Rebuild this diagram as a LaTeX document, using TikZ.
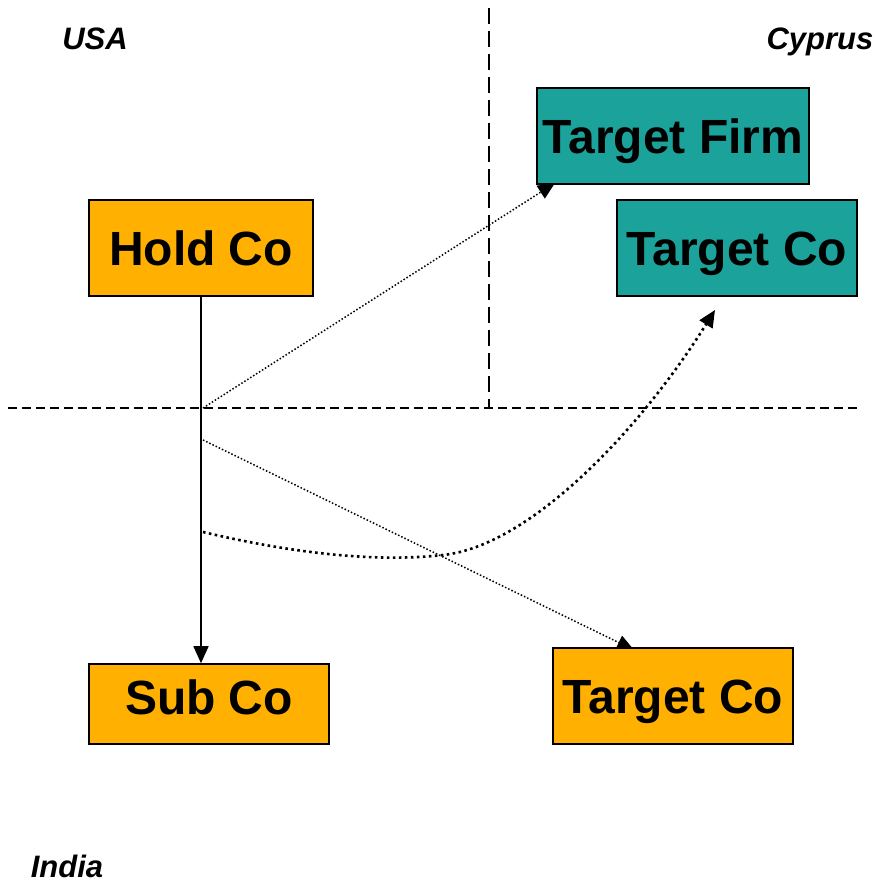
\documentclass[tikz,border=0pt]{standalone}
\usepackage{fontspec}
\setmainfont{Liberation Sans}
\usetikzlibrary{arrows.meta,backgrounds}

\definecolor{boxorange}{RGB}{255,176,0}
\definecolor{boxteal}{RGB}{27,163,155}

\tikzset{
  x=1pt, y=-1pt,
  entity/.style={draw=black, line width=1.6pt, inner sep=0pt, align=center,
    text height=34.4pt, text depth=0pt,
    font=\fontsize{48}{51}\selectfont\bfseries},
  orangebox/.style={entity, fill=boxorange},
  tealbox/.style={entity, fill=boxteal},
  region/.style={anchor=base, inner sep=0pt,
    font=\fontsize{31}{34}\selectfont\bfseries\itshape},
  border/.style={line width=1.6pt},
  thindot/.style={line width=1.5pt, dash pattern=on 1.5pt off 2pt},
  thickdot/.style={line width=2.6pt, dash pattern=on 2.6pt off 3.4pt},
  head/.style={-{Triangle[length=17pt,width=15pt]}},
}

\begin{document}
\begin{tikzpicture}
\useasboundingbox (0,0) rectangle (877,883);

% country labels
\node[region] (usa) at (95,49) {USA};
\node[region] (cyprus) at (820,49) {Cyprus};
\node[region] (india) at (67,877) {India};

% entities
\node[orangebox, minimum width=224pt, minimum height=96pt] (hold) at (201,248) {Hold Co};
\node[tealbox, minimum width=272pt, minimum height=96pt] (firm) at (673,136) {Target Firm};
\node[tealbox, minimum width=240pt, minimum height=96pt] (tcy) at (737,248) {Target Co};
\node[orangebox, minimum width=240pt, minimum height=80pt] (sub) at (209,704) {\raisebox{7pt}{Sub Co}};
\node[orangebox, minimum width=240pt, minimum height=96pt] (tin) at (673,696) {Target Co};

% anchor points on the ownership line and inside the target boxes
\coordinate (p1) at (203,408);
\coordinate (p2) at (203,440);
\coordinate (p3) at (203,532);
\coordinate (mid) at (443,555);
\coordinate (firmin) at (555,183);
\coordinate (tinin) at (634,650);
\coordinate (tcytip) at (715,310);

% country borders
\coordinate (hl) at (8,408);
\coordinate (hr) at (857,408);
\coordinate (vt) at (489,8);
\coordinate (vb) at (489,408);

\begin{scope}[on background layer]
  \draw[border, dash pattern=on 9pt off 5pt] (hl) -- (hr);
  \draw[border, dash pattern=on 16pt off 7pt] (vt) -- (vb);
  \draw[thindot, head] (p1) -- (firmin);
  \draw[thindot, head] (p2) -- (tinin);
\end{scope}

\draw[thickdot, head] (p3) .. controls (300,555) and (380,562) .. (mid)
  .. controls (530,546) and (640,430) .. (tcytip);

\draw[border, head] (hold.south) -- (hold.south |- sub.north);
\end{tikzpicture}
\end{document}
